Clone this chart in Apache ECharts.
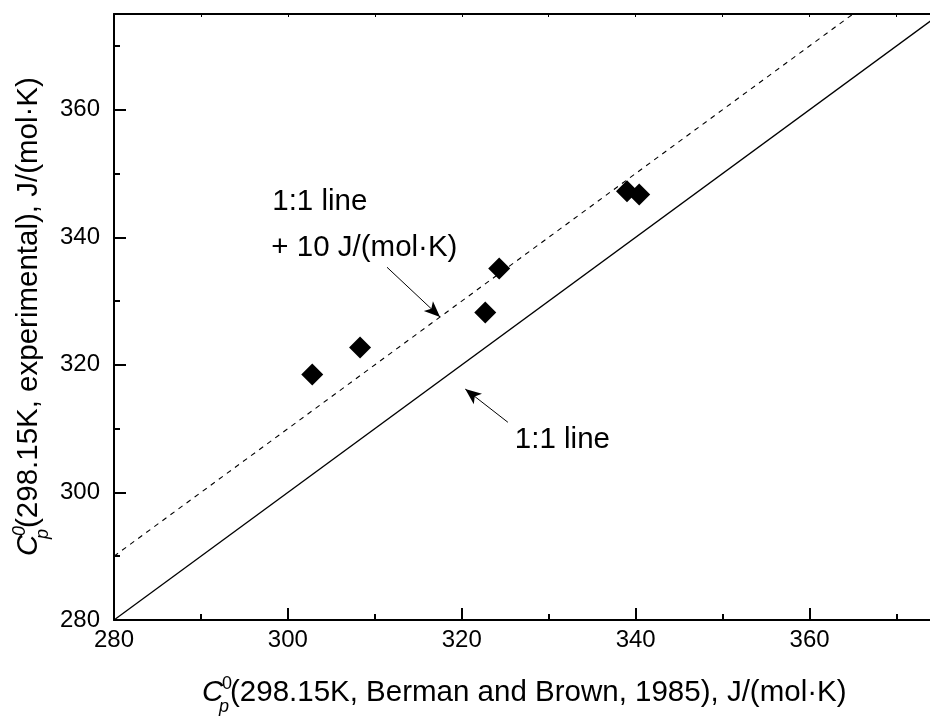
<!DOCTYPE html>
<html><head><meta charset="utf-8">
<script src="https://cdn.jsdelivr.net/npm/echarts@6/dist/echarts.min.js"></script>
<style>html,body{margin:0;padding:0;background:#fff}#c{width:930px;height:722px}</style>
</head><body><div id="c"></div>
<script>
// ---- data ----
const bermanBrown = [302.8, 308.3, 322.7, 324.3, 339.0, 340.4];
const experimental = [318.5, 322.7, 328.2, 335.1, 347.2, 346.7];
const oneToOneLine = [[280, 280], [375, 375]];
const plusTenLine = [[280, 290], [365, 375]];
const xTickLabels = [280, 300, 320, 340, 360];
const yTickLabels = [280, 300, 320, 340, 360];
const arrowFrom = [[311.4, 335.3], [325.3, 311.0]];
const arrowTo = [[317.5, 327.5], [320.4, 316.2]];
const annotTexts = ['1:1 line', '+ 10 J/(mol·K)', '1:1 line'];
const annotPos = [[298.2, 345.5], [298.1, 338.3], [326.1, 308.2]];

const FONT = 'Liberation Sans, Arial, sans-serif';
const chart = echarts.init(document.getElementById('c'), null, {renderer: 'canvas'});

const axisCommon = {
  min: 280, max: 375, interval: 20,
  axisLine: {show: true, onZero: false, lineStyle: {color: '#000', width: 2}},
  splitLine: {show: false},
};
const pts = bermanBrown.map((x, i) => [x, experimental[i]]);

const option = {
  animation: false,
  backgroundColor: '#fff',
  grid: {left: 114, top: 14, width: 826, height: 606, containLabel: false, outerBoundsMode: 'none'},
  xAxis: [
    Object.assign({}, axisCommon, {
      type: 'value', position: 'bottom',
      axisTick: {show: true, inside: true, length: 12, lineStyle: {color: '#000', width: 2}},
      minorTick: {show: true, splitNumber: 2, length: 6, lineStyle: {color: '#000', width: 2}},
      axisLabel: {margin: 8, color: '#000', fontSize: 24, fontFamily: FONT, showMaxLabel: false,
        formatter: v => xTickLabels.includes(v) ? String(v) : ''}
    }),
    Object.assign({}, axisCommon, {
      type: 'value', position: 'top',
      axisTick: {show: true, inside: true, length: 3, lineStyle: {color: '#000', width: 1}},
      minorTick: {show: true, splitNumber: 2, length: 3, lineStyle: {color: '#000', width: 1}},
      axisLabel: {show: false}
    })
  ],
  yAxis: [
    Object.assign({}, axisCommon, {
      type: 'value', position: 'left',
      axisTick: {show: true, inside: true, length: 12, lineStyle: {color: '#000', width: 2}},
      minorTick: {show: true, splitNumber: 2, length: 6, lineStyle: {color: '#000', width: 2}},
      axisLabel: {margin: 14, color: '#000', fontSize: 24, fontFamily: FONT, showMaxLabel: false,
        formatter: v => yTickLabels.includes(v) ? String(v) : ''}
    }),
    Object.assign({}, axisCommon, {
      type: 'value', position: 'right',
      axisTick: {show: true, inside: true, length: 3},
      axisLabel: {show: false}
    })
  ],
  series: [
    {
      type: 'line', data: oneToOneLine, symbol: 'none', silent: true,
      lineStyle: {color: '#000', width: 1.3},
      markLine: {
        silent: true, symbol: ['none', 'arrow'], symbolSize: [10, 16],
        lineStyle: {color: '#000', width: 1, type: 'solid'},
        label: {show: false},
        data: arrowFrom.map((f, i) => [{coord: f}, {coord: arrowTo[i]}])
      }
    },
    {
      type: 'line', data: plusTenLine, symbol: 'none', silent: true,
      lineStyle: {color: '#000', width: 1.1, type: [5, 5]}
    },
    {
      type: 'scatter', data: pts, symbol: 'diamond', symbolSize: 22,
      itemStyle: {color: '#000', opacity: 1}
    }
  ]
};
chart.setOption(option);

// annotation texts and axis titles
const g = [];
annotTexts.forEach((t, i) => {
  const p = chart.convertToPixel({gridIndex: 0}, annotPos[i]);
  g.push({type: 'text', x: p[0], y: p[1],
    style: {text: t, font: '29.5px ' + FONT, fill: '#000', verticalAlign: 'middle', align: 'left'}});
});

function titleGroup(rest, x, y, rot, supStyle) {
  const fs = 29.5;
  return {
    type: 'group', x: x, y: y, rotation: rot,
    children: [
      {type: 'text', x: 0, y: 0, style: {text: 'C', font: 'italic ' + fs + 'px ' + FONT, fill: '#000', verticalAlign: 'bottom'}},
      {type: 'text', x: 20, y: -15, style: {text: '0', font: supStyle + ' 18px ' + FONT, fill: '#000', verticalAlign: 'bottom'}},
      {type: 'text', x: 17, y: 8, style: {text: 'p', font: 'italic 18px ' + FONT, fill: '#000', verticalAlign: 'bottom'}},
      {type: 'text', x: 28, y: 0, style: {text: rest, font: fs + 'px ' + FONT, fill: '#000', verticalAlign: 'bottom'}}
    ]
  };
}
const xRest = '(298.15K, Berman and Brown, 1985), J/(mol·K)';
const yRest = '(298.15K, experimental), J/(mol·K)';
g.push(titleGroup(xRest, 202, 708, 0, 'normal'));
g.push(titleGroup(yRest, 44, 556, Math.PI / 2, 'italic'));
chart.setOption({graphic: g});
</script>
</body></html>
